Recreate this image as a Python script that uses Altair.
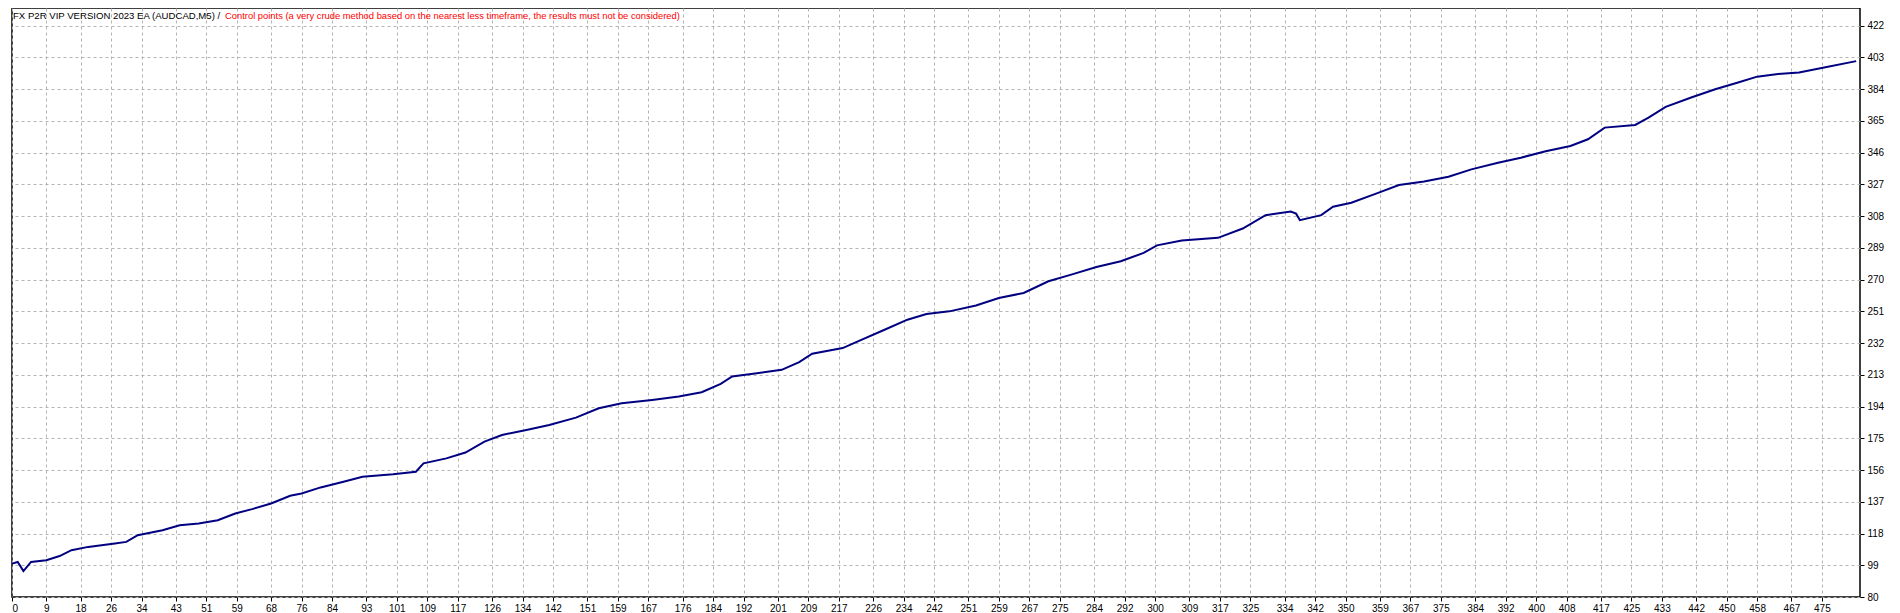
import altair as alt
import pandas as pd

# Balance curve (trade number -> balance)
trades = [0, 1.5, 3, 5, 9, 12.5, 15.6, 20, 27, 30, 33, 39.5, 44, 49, 54, 58.6, 63, 68, 73, 76,
          81, 87, 92, 100, 106, 108, 114, 119, 124, 128.6, 135, 141, 148, 154, 160, 168, 175,
          181, 186, 189, 195.5, 202, 206.6, 210, 218, 222.6, 229, 235, 240, 246, 253, 259,
          265.5, 272, 278, 284.6, 291, 297, 300.5, 307, 316.5, 323, 329, 335.6, 337, 338,
          343.6, 346.7, 351.5, 358, 364, 370.6, 377, 383, 390, 396, 402.5, 409, 413.6, 418,
          426, 429.5, 434, 440.7, 447, 453, 458, 463, 469, 475.6, 484]
balance = [100, 101, 95.5, 101, 102, 104.5, 108, 110, 112, 113, 117, 120, 123, 124, 126, 130,
           132.6, 136, 140.6, 142, 145.6, 149, 152, 153.5, 155, 160, 163, 166.5, 173, 177, 180,
           183, 187.4, 193, 196, 198, 200, 202.6, 207.6, 212, 214, 216, 220.6, 225.6, 229,
           233.6, 240, 246, 249.4, 251, 254.5, 259, 262, 269, 273, 277.6, 281, 286, 290.5,
           293.4, 295, 300.6, 308.6, 310.7, 309.5, 305.6, 308.6, 313.6, 316, 321.5, 326.6,
           328.7, 331.6, 336, 340, 343, 346.8, 350, 354, 361, 362.6, 367, 373.4, 379, 384,
           388, 391.5, 393, 394, 397, 400.8]

x_ticks = [0, 9, 18, 26, 34, 43, 51, 59, 68, 76, 84, 93, 101, 109, 117, 126, 134, 142, 151,
           159, 167, 176, 184, 192, 201, 209, 217, 226, 234, 242, 251, 259, 267, 275, 284, 292,
           300, 309, 317, 325, 334, 342, 350, 359, 367, 375, 384, 392, 400, 408, 417, 425, 433,
           442, 450, 458, 467, 475]
y_ticks = [80, 99, 118, 137, 156, 175, 194, 213, 232, 251, 270, 289, 308, 327, 346, 365, 384,
           403, 422]

title_black = ["FX P2R VIP VERSION 2023 EA (AUDCAD,M5) /"]
title_red = ["Control points (a very crude method based on the nearest less timeframe, the results must not be considered)"]

df = pd.DataFrame({"trade": trades, "balance": balance})

x_scale = alt.Scale(domain=[0, 485], nice=False, zero=False)
y_scale = alt.Scale(domain=[80, 432.6], nice=False, zero=False)

grid_axis = dict(gridColor="#b4b4b4", gridDash=[3, 3], gridWidth=1, domain=False,
                 tickColor="#000000", tickSize=4, labelColor="#000000",
                 labelFont="Liberation Sans", labelFontSize=10)

line = alt.Chart(df).mark_line(color="#000080", strokeWidth=2).encode(
    x=alt.X("trade:Q", scale=x_scale, title=None,
            axis=alt.Axis(values=x_ticks, format="d", labelPadding=2, **grid_axis)),
    y=alt.Y("balance:Q", scale=y_scale, title=None,
            axis=alt.Axis(orient="right", values=y_ticks, format="d", labelPadding=3, **grid_axis)),
)

t1 = alt.Chart(pd.DataFrame({"t": title_black})).mark_text(
    align="left", baseline="middle", font="Liberation Sans", fontSize=9.6, color="#000000"
).encode(x=alt.value(1), y=alt.value(8), text="t:N")

t2 = alt.Chart(pd.DataFrame({"t": title_red})).mark_text(
    align="left", baseline="middle", font="Liberation Sans", fontSize=9.4, color="#ff0000"
).encode(x=alt.value(213), y=alt.value(8), text="t:N")

chart = alt.layer(line, t1, t2).properties(
    width=1848, height=589, padding=0, background="#ffffff"
).configure_view(stroke="#000000", strokeWidth=1.5)

chart.save("out.html", embed_options={"renderer": "svg", "actions": False})
